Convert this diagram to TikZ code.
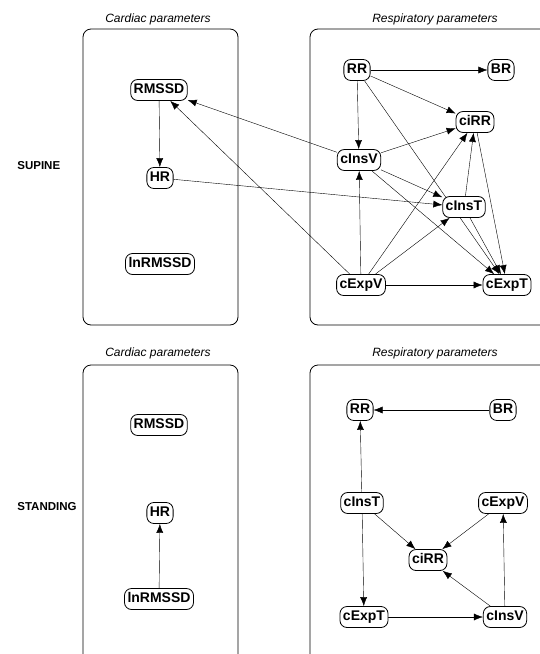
\documentclass[tikz,border=0pt]{standalone}
\usepackage{fontspec}
\setmainfont{Liberation Sans}
\usepackage{tikz}
\usetikzlibrary{arrows.meta}
\usetikzlibrary{backgrounds}

\begin{document}
\begin{tikzpicture}[x=1pt,y=-1pt,line width=0.8pt,>={Latex[length=9pt,width=7pt]}]
	\tikzstyle{var}=[draw,fill=white,rounded corners=7pt,inner xsep=3pt,inner ysep=4pt,text height=10pt,text depth=3pt,font=\fontsize{14}{16}\selectfont\bfseries];
	\tikzstyle{panel}=[rounded corners=8pt];
	\tikzstyle{title}=[font=\fontsize{12}{14}\selectfont\itshape];
	\tikzstyle{posture}=[anchor=west,inner sep=0pt,font=\fontsize{11.5}{14}\selectfont\bfseries];
	\useasboundingbox (0,0) rectangle (540,654);
	\clip (0,0) rectangle (540,654);
	%% Panels
	\draw[panel] (83,29) rectangle (238,325);
	\draw[panel] (310,29) rectangle (600,325);
	\draw[panel] (83,365) rectangle (238,720);
	\draw[panel] (310,365) rectangle (600,720);
	\node[title] (cardA) at (158,19) {Cardiac parameters};
	\node[title] (respA) at (435,19) {Respiratory parameters};
	\node[title] (cardB) at (158,353) {Cardiac parameters};
	\node[title] (respB) at (435,353) {Respiratory parameters};
	\node[posture] (supine) at (17,166) {SUPINE};
	\node[posture] (standing) at (17,507) {STANDING};
	%% Supine
	\node[var] (RMSSD1)   at (159,90)  {RMSSD};
	\node[var] (HR1)      at (160,178) {HR};
	\node[var] (lnRMSSD1) at (160,264) {lnRMSSD};
	\node[var] (RR1)      at (357,70)  {RR};
	\node[var] (BR1)      at (501,70)  {BR};
	\node[var] (ciRR1)    at (475,122) {ciRR};
	\node[var] (cInsV1)   at (359,160) {cInsV};
	\node[var] (cInsT1)   at (464,207) {cInsT};
	\node[var] (cExpV1)   at (361,285) {cExpV};
	\node[var] (cExpT1)   at (507,285) {cExpT};
	%% Standing
	\node[var] (RMSSD2)   at (159,425) {RMSSD};
	\node[var] (HR2)      at (160,513) {HR};
	\node[var] (lnRMSSD2) at (159,599) {lnRMSSD};
	\node[var] (RR2)      at (360,410) {RR};
	\node[var] (BR2)      at (503,410) {BR};
	\node[var] (cInsT2)   at (362,503) {cInsT};
	\node[var] (cExpV2)   at (503,503) {cExpV};
	\node[var] (ciRR2)    at (428,560) {ciRR};
	\node[var] (cExpT2)   at (364,617) {cExpT};
	\node[var] (cInsV2)   at (505,617) {cInsV};
	%% Edges
	\begin{scope}[on background layer,->]
		\draw (RMSSD1) -- (HR1);
		\draw (cInsV1) -- (RMSSD1);
		\draw (cExpV1) -- (RMSSD1);
		\draw (HR1) -- (cInsT1);
		\draw (RR1) -- (BR1);
		\draw (RR1) -- (ciRR1);
		\draw (RR1) -- (cInsV1);
		\draw (RR1) -- (cExpT1);
		\draw (cInsV1) -- (ciRR1);
		\draw (cInsV1) -- (cInsT1);
		\draw (cInsV1) -- (cExpT1);
		\draw (cExpV1) -- (cInsV1);
		\draw (cExpV1) -- (ciRR1);
		\draw (cExpV1) -- (cInsT1);
		\draw (cExpV1) -- (cExpT1);
		\draw (cInsT1) -- (ciRR1);
		\draw (cInsT1) -- (cExpT1);
		\draw (ciRR1) -- (cExpT1);
		%%
		\draw (lnRMSSD2) -- (HR2);
		\draw (BR2) -- (RR2);
		\draw (cInsT2) -- (RR2);
		\draw (cInsT2) -- (ciRR2);
		\draw (cInsT2) -- (cExpT2);
		\draw (cExpV2) -- (ciRR2);
		\draw (cInsV2) -- (ciRR2);
		\draw (cInsV2) -- (cExpV2);
		\draw (cExpT2) -- (cInsV2);
	\end{scope}
\end{tikzpicture}
\end{document}
